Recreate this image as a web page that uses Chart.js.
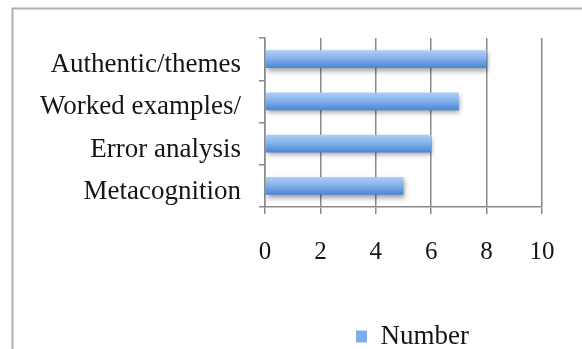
<!DOCTYPE html>
<html>
<head>
<meta charset="utf-8">
<script src="https://cdn.jsdelivr.net/npm/chart.js@4/dist/chart.umd.min.js"></script>
<style>
  html, body { margin: 0; padding: 0; background: #fff; overflow: hidden; width: 582px; height: 349px; }
  #wrap { position: absolute; left: 0; top: 0; width: 811px; height: 400px; }
</style>
</head>
<body>
<div id="wrap"><canvas id="chart" width="811" height="400"></canvas></div>
<script>
// Strategies used, and how often
const categories = ['Authentic/themes', 'Worked examples/', 'Error analysis', 'Metacognition'];
const seriesName = 'Number';
const counts = [8, 7, 6, 5];
const xTickValues = [0, 2, 4, 6, 8, 10];

const FONT = '"Liberation Serif", "Times New Roman", serif';
const GRID = '#8a8a8a';
const TEXT = '#151515';
const FLAT_BLUE = '#7eaee9';
const BAR_SHARE = 0.8 * 0.52;

// Vertical blue gradient for each bar, placed on the bar's own band
function barFill(c) {
  const chart = c.chart;
  const yScale = chart.scales && chart.scales.y;
  if (!yScale || c.type !== 'data') return FLAT_BLUE;
  const center = yScale.getPixelForValue(c.dataIndex);
  const half = (yScale.height / categories.length) * BAR_SHARE / 2;
  if (!isFinite(center) || !isFinite(half) || half <= 0) return FLAT_BLUE;
  const g = chart.ctx.createLinearGradient(0, center - half, 0, center + half);
  g.addColorStop(0, '#afcef5');
  g.addColorStop(0.45, '#86b3ec');
  g.addColorStop(1, '#4a85d4');
  return g;
}

// Outer chart frame (only its top and left edges fall inside the page)
const framePlugin = {
  id: 'frame',
  beforeDraw(chart) {
    const ctx = chart.ctx;
    ctx.save();
    ctx.fillStyle = '#ffffff';
    ctx.fillRect(0, 0, chart.width, chart.height);
    ctx.strokeStyle = '#b0b0b0';
    ctx.lineWidth = 2;
    ctx.strokeRect(12.5, 8.5, chart.width + 50, chart.height + 50);
    ctx.restore();
  }
};

// Soft drop shadow under the bars
const shadowPlugin = {
  id: 'barShadow',
  beforeDatasetsDraw(chart) {
    const ctx = chart.ctx;
    ctx.save();
    ctx.shadowColor = 'rgba(0,0,0,0.38)';
    ctx.shadowBlur = 5;
    ctx.shadowOffsetX = 1;
    ctx.shadowOffsetY = 3;
  },
  afterDatasetsDraw(chart) {
    chart.ctx.restore();
  }
};

new Chart(document.getElementById('chart'), {
  type: 'bar',
  data: {
    labels: categories,
    datasets: [{
      label: seriesName,
      data: counts,
      backgroundColor: barFill,
      borderWidth: 0,
      categoryPercentage: 0.8,
      barPercentage: 0.52
    }]
  },
  plugins: [framePlugin, shadowPlugin],
  options: {
    indexAxis: 'y',
    responsive: false,
    animation: false,
    layout: { padding: { left: 14, top: 38, right: 0, bottom: 40 } },
    scales: {
      x: {
        min: 0,
        max: 10,
        afterBuildTicks(scale) {
          scale.ticks = xTickValues.map(v => ({ value: v }));
        },
        afterFit(scale) {
          scale.height = 106;
          scale.paddingRight = scale.chart.width - 542;
        },
        grid: { color: GRID, lineWidth: 1.5, tickLength: 7, drawOnChartArea: true },
        border: { color: GRID, width: 1.5 },
        ticks: {
          color: TEXT,
          padding: 23,
          maxRotation: 0,
          font: { family: FONT, size: 25 }
        }
      },
      y: {
        afterFit(scale) {
          scale.width = 265 - 14;
        },
        grid: { color: GRID, lineWidth: 1.5, tickLength: 6, drawOnChartArea: false },
        border: { color: GRID, width: 1.5 },
        ticks: {
          color: TEXT,
          padding: 18,
          // the wrapped second category sits a little higher in its band
          labelOffset: (c) => (c.index === 1 ? 1 : 6),
          font: { family: FONT, size: 27 }
        }
      }
    },
    plugins: {
      tooltip: { enabled: false },
      legend: {
        position: 'bottom',
        labels: {
          color: TEXT,
          boxWidth: 11,
          boxHeight: 12,
          padding: 10,
          font: { family: FONT, size: 27 },
          generateLabels(chart) {
            const items = Chart.defaults.plugins.legend.labels.generateLabels(chart);
            items.forEach(it => {
              it.fillStyle = FLAT_BLUE;
              it.strokeStyle = 'rgba(0,0,0,0)';
              it.lineWidth = 0;
            });
            return items;
          }
        }
      }
    }
  }
});
</script>
</body>
</html>
